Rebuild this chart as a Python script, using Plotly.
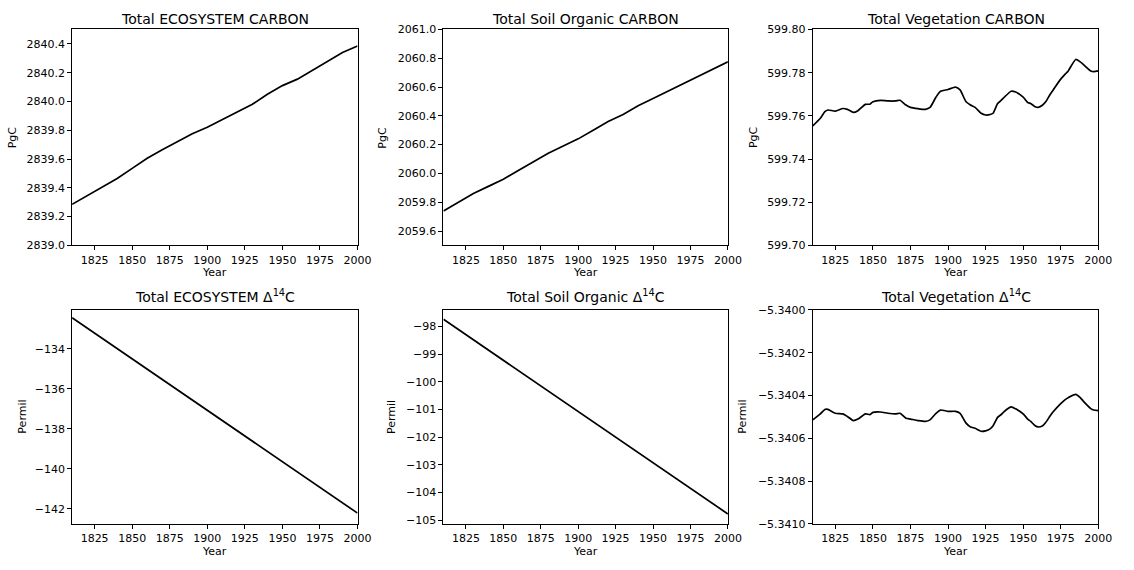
import plotly.graph_objects as go

# ---- data -------------------------------------------------------------
years_dec = [1810, 1820, 1830, 1840, 1850, 1860, 1870, 1880, 1890, 1900,
             1910, 1920, 1930, 1940, 1950, 1960, 1970, 1980, 1990, 2000]

eco_carbon = [2839.285, 2839.345, 2839.405, 2839.465, 2839.535, 2839.605,
              2839.665, 2839.720, 2839.775, 2839.820, 2839.875, 2839.925,
              2839.980, 2840.050, 2840.110, 2840.155, 2840.215, 2840.280,
              2840.340, 2840.385]

soil_carbon = [2059.739, 2059.800, 2059.860, 2059.910, 2059.960, 2060.020,
               2060.080, 2060.140, 2060.190, 2060.240, 2060.300, 2060.360,
               2060.410, 2060.470, 2060.520, 2060.570, 2060.620, 2060.670,
               2060.720, 2060.775]

years_veg = [1810, 1815, 1818, 1820, 1825, 1830, 1833, 1837, 1840, 1845,
             1848, 1850, 1855, 1860, 1865, 1868, 1872, 1875, 1880, 1885,
             1888, 1892, 1895, 1900, 1905, 1908, 1912, 1915, 1918, 1922,
             1925, 1928, 1930, 1933, 1935, 1938, 1942, 1945, 1950, 1953,
             1955, 1958, 1960, 1963, 1965, 1968, 1970, 1975, 1978, 1980,
             1985, 1988, 1990, 1995, 1997, 2000]

veg_carbon = [599.7554, 599.7589, 599.7619, 599.7627, 599.7622, 599.7634,
              599.7630, 599.7616, 599.7624, 599.7653, 599.7654, 599.7665,
              599.7672, 599.7669, 599.7669, 599.7672, 599.7650, 599.7639,
              599.7633, 599.7630, 599.7639, 599.7687, 599.7714, 599.7722,
              599.7733, 599.7720, 599.7665, 599.7650, 599.7639, 599.7612,
              599.7604, 599.7606, 599.7612, 599.7657, 599.7669, 599.7690,
              599.7714, 599.7710, 599.7687, 599.7662, 599.7657, 599.7642,
              599.7639, 599.7650, 599.7665, 599.7700, 599.7720, 599.7770,
              599.7793, 599.7808, 599.7861, 599.7850, 599.7838, 599.7808,
              599.7805, 599.7808]

veg_d14c = [-5.340514, -5.340486, -5.340465, -5.340465, -5.340483, -5.340486,
            -5.340498, -5.340517, -5.340510, -5.340486, -5.340489, -5.340479,
            -5.340477, -5.340483, -5.340486, -5.340483, -5.340506, -5.340510,
            -5.340517, -5.340521, -5.340514, -5.340483, -5.340468, -5.340474,
            -5.340474, -5.340483, -5.340529, -5.340547, -5.340553, -5.340567,
            -5.340565, -5.340556, -5.340541, -5.340502, -5.340491, -5.340471,
            -5.340453, -5.340462, -5.340486, -5.340510, -5.340521, -5.340541,
            -5.340547, -5.340541, -5.340526, -5.340495, -5.340476, -5.340438,
            -5.340419, -5.340410, -5.340395, -5.340410, -5.340426, -5.340461,
            -5.340468, -5.340471]

years_lin = [1810, 1850, 1900, 1950, 2000]
eco_d14c = [-132.44, -134.50, -137.10, -139.65, -142.22]
soil_d14c = [-97.74, -99.22, -101.06, -102.91, -104.77]

xticks = [1825, 1850, 1875, 1900, 1925, 1950, 1975, 2000]

# ---- layout geometry (pixels) ----------------------------------------
W, H = 1134, 570
cols = [(73, 362), (449, 737), (823, 1112)]
rows = [(24, 245), (311, 530)]
title_y = [13, 297]
year_y = [273, 558]

panels = [
    dict(x=years_dec, y=eco_carbon, title="Total ECOSYSTEM CARBON", ylab="PgC",
         yr=[2839.0, 2840.5], dt=0.2, t0=2839.0, fmt=".1f", ylx=13, spline=False),
    dict(x=years_dec, y=soil_carbon, title="Total Soil Organic CARBON", ylab="PgC",
         yr=[2059.5, 2061.0], dt=0.2, t0=2059.6, fmt=".1f", ylx=387, spline=False),
    dict(x=years_veg, y=veg_carbon, title="Total Vegetation CARBON", ylab="PgC",
         yr=[599.70, 599.80], dt=0.02, t0=599.70, fmt=".2f", ylx=763, spline=True),
    dict(x=years_lin, y=eco_d14c, title="Total ECOSYSTEM Δ<sup>14</sup>C", ylab="Permil",
         yr=[-142.76, -132.05], dt=2, t0=-142, fmt="d", ylx=23, spline=False),
    dict(x=years_lin, y=soil_d14c, title="Total Soil Organic Δ<sup>14</sup>C", ylab="Permil",
         yr=[-105.13, -97.40], dt=1, t0=-105, fmt="d", ylx=397, spline=False),
    dict(x=years_veg, y=veg_d14c, title="Total Vegetation Δ<sup>14</sup>C", ylab="Permil",
         yr=[-5.3410, -5.3400], dt=0.0002, t0=-5.3410, fmt=".4f", ylx=752, spline=True),
]

FONT = "DejaVu Sans"
fig = go.Figure()
annotations = []

for i, p in enumerate(panels):
    r, c = divmod(i, 3)
    x0, x1 = cols[c]
    top, bot = rows[r]
    n = "" if i == 0 else str(i + 1)
    xa, ya = "x" + n, "y" + n

    fig.add_trace(go.Scatter(
        x=p["x"], y=p["y"], mode="lines", xaxis=xa, yaxis=ya,
        line=dict(color="black", width=1.7,
                  shape="spline" if p["spline"] else "linear", smoothing=0.6),
        showlegend=False, hoverinfo="skip"))

    axis_common = dict(showline=True, mirror=True, linecolor="black", linewidth=1,
                       ticks="outside", ticklen=4, tickwidth=1, tickcolor="black",
                       showgrid=False, zeroline=False,
                       tickfont=dict(family=FONT, size=11, color="black"))
    fig.layout["xaxis" + n] = dict(
        domain=[x0 / W, x1 / W], anchor=ya, range=[1810, 2000],
        tickmode="array", tickvals=xticks, **axis_common)
    fig.layout["yaxis" + n] = dict(
        domain=[1 - bot / H, 1 - top / H], anchor=xa, range=p["yr"],
        tickmode="linear", tick0=p["t0"], dtick=p["dt"], tickformat=p["fmt"],
        **axis_common)

    # panel title
    annotations.append(dict(
        text=p["title"], x=(x0 + x1) / 2 / W, y=1 - title_y[r] / H,
        xref="paper", yref="paper", xanchor="center", yanchor="middle",
        showarrow=False, font=dict(family=FONT, size=14, color="black")))
    # x-axis label
    annotations.append(dict(
        text="Year", x=(x0 + x1) / 2 / W, y=1 - year_y[r] / H,
        xref="paper", yref="paper", xanchor="center", yanchor="middle",
        showarrow=False, font=dict(family=FONT, size=11, color="black")))
    # y-axis label
    annotations.append(dict(
        text=p["ylab"], x=p["ylx"] / W, y=1 - (top + bot) / 2 / H,
        xref="paper", yref="paper", xanchor="center", yanchor="middle",
        textangle=-90, showarrow=False,
        font=dict(family=FONT, size=11, color="black")))

fig.update_layout(
    width=W, height=H, margin=dict(l=0, r=0, t=0, b=0),
    paper_bgcolor="white", plot_bgcolor="white",
    font=dict(family=FONT, size=11, color="black"),
    annotations=annotations,
)

fig.write_html("out.html")
